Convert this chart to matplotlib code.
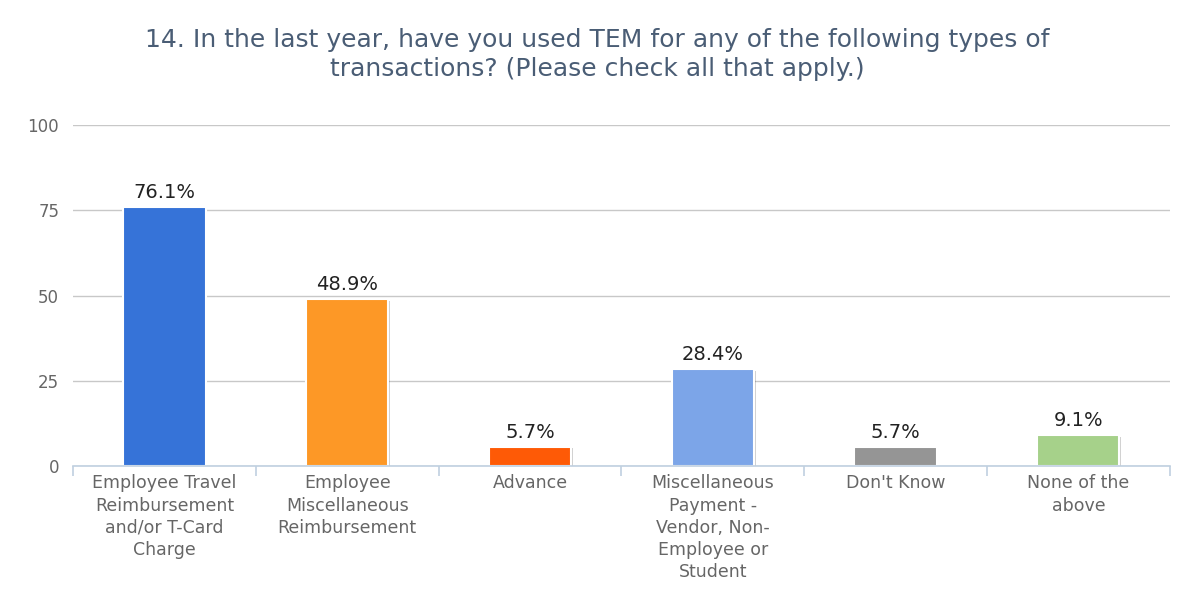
import matplotlib
matplotlib.use("Agg")
import matplotlib.pyplot as plt
import matplotlib.patheffects as pe
import numpy as np

categories = [
    "Employee Travel\nReimbursement\nand/or T-Card\nCharge",
    "Employee\nMiscellaneous\nReimbursement",
    "Advance",
    "Miscellaneous\nPayment -\nVendor, Non-\nEmployee or\nStudent",
    "Don't Know",
    "None of the\nabove",
]
values = [76.1, 48.9, 5.7, 28.4, 5.7, 9.1]
colors = ["#3673d8", "#fd9826", "#fe5a06", "#7ca5e8", "#959595", "#a6d18a"]
yticks = [0, 25, 50, 75, 100]
title = "14. In the last year, have you used TEM for any of the following types of\ntransactions? (Please check all that apply.)"

fig = plt.figure(figsize=(11.78, 5.96), dpi=100)
ax = fig.add_axes([0.062, 0.218, 0.931, 0.572])

x = np.arange(len(categories))
bars = ax.bar(x, values, width=0.45, color=colors, edgecolor="white", linewidth=1.5, zorder=3)
for b in bars:
    b.set_path_effects([pe.SimplePatchShadow(offset=(1.2, -1.2), shadow_rgbFace="#000000", alpha=0.18), pe.Normal()])

for xi, v in zip(x, values):
    ax.text(xi, v + 1.5, f"{v}%", ha="center", va="bottom", fontsize=14, color="#222222", zorder=4)

ax.set_xlim(-0.5, len(categories) - 0.5)
ax.set_ylim(0, 100)
ax.set_yticks(yticks)
ax.set_yticklabels([str(t) for t in yticks], fontsize=12, color="#666666")
ax.yaxis.grid(True, color="#c8c8c8", linewidth=1.0, zorder=0)
ax.set_axisbelow(True)
ax.tick_params(axis="y", length=0, pad=10)

ax.set_xticks(x)
ax.set_xticklabels(categories, fontsize=12.5, color="#666666", linespacing=1.3, va="top")
ax.tick_params(axis="x", length=0, pad=6)
ax.set_xticks(np.arange(len(categories) + 1) - 0.5, minor=True)
ax.tick_params(axis="x", which="minor", length=7, color="#c0d0e0", width=1.2)

for s in ["top", "right", "left"]:
    ax.spines[s].set_visible(False)
ax.spines["bottom"].set_color("#c0d0e0")
ax.spines["bottom"].set_linewidth(1.2)
ax.spines["bottom"].set_zorder(5)

fig.text(0.507, 0.909, title, ha="center", va="center", fontsize=18, color="#4a5d75", linespacing=1.28)

fig.savefig("out.png", dpi=100, facecolor="white")
